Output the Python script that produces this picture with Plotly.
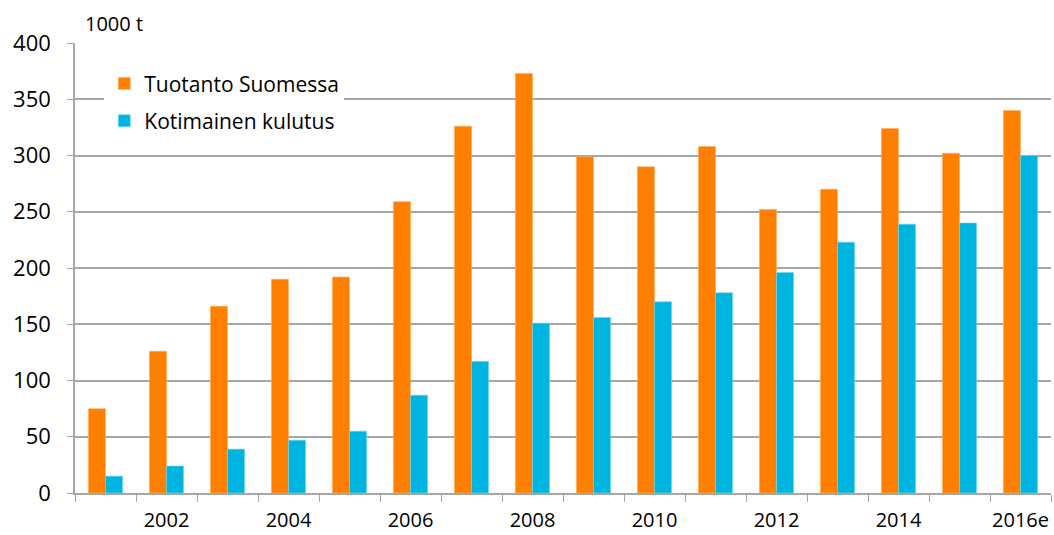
import plotly.graph_objects as go

years = ["2001", "2002", "2003", "2004", "2005", "2006", "2007", "2008",
         "2009", "2010", "2011", "2012", "2013", "2014", "2015", "2016e"]
tick_text = ["", "2002", "", "2004", "", "2006", "", "2008",
             "", "2010", "", "2012", "", "2014", "", "2016e"]
production = [75, 126, 166, 190, 192, 259, 326, 373, 299, 290, 308, 252, 270, 324, 302, 340]
consumption = [15, 24, 39, 47, 55, 87, 117, 151, 156, 170, 178, 196, 223, 239, 240, 300]
series_names = ["Tuotanto Suomessa", "Kotimainen kulutus"]
unit_label = "1000 t"

FONT = "Open Sans, sans-serif"
GRID = "#A6A6A6"

fig = go.Figure()
fig.add_trace(go.Bar(x=years, y=production, name=series_names[0],
                     marker=dict(color="#FF8000", line=dict(width=0.6, color="#FFB060")),
                     legendgroup="a"))
fig.add_trace(go.Bar(x=years, y=consumption, name=series_names[1],
                     marker=dict(color="#00B4E0", line=dict(width=0.6, color="#70D8F0")),
                     legendgroup="b"))

fig.update_layout(
    width=1054, height=535, autosize=False,
    margin=dict(l=75, r=3, t=43, b=42),
    paper_bgcolor="white", plot_bgcolor="white",
    barmode="group", bargap=0.44, bargroupgap=0,
    font=dict(family=FONT, color="#000000", size=19),
    legend=dict(x=0.03, y=0.955, xanchor="left", yanchor="top",
                bgcolor="white", font=dict(size=21, family=FONT),
                tracegroupgap=7, itemwidth=30),
    annotations=[dict(text=unit_label, xref="paper", yref="paper",
                      x=0.008, y=1.0, xanchor="left", yanchor="bottom",
                      yshift=4, showarrow=False, font=dict(size=20, family=FONT))],
)
fig.update_xaxes(type="category", tickmode="array", tickvals=years, ticktext=tick_text,
                 tickson="boundaries", ticks="outside", ticklen=7, tickcolor=GRID,
                 showline=True, linecolor=GRID, linewidth=1.5, showgrid=False,
                 automargin=False, ticklabelstandoff=8, tickangle=0,
                 tickfont=dict(size=20, family=FONT))
fig.update_yaxes(range=[0, 400], dtick=50, showgrid=True, gridcolor=GRID, gridwidth=1.5,
                 ticks="outside", ticklen=6, tickcolor=GRID, showline=True,
                 linecolor=GRID, linewidth=1.5, zeroline=False,
                 automargin=False, ticklabelstandoff=12,
                 tickfont=dict(size=22, family=FONT))

fig.write_html("out.html", config={"displayModeBar": False},
               post_script="document.body.style.margin='0';document.body.style.overflow='hidden';")
